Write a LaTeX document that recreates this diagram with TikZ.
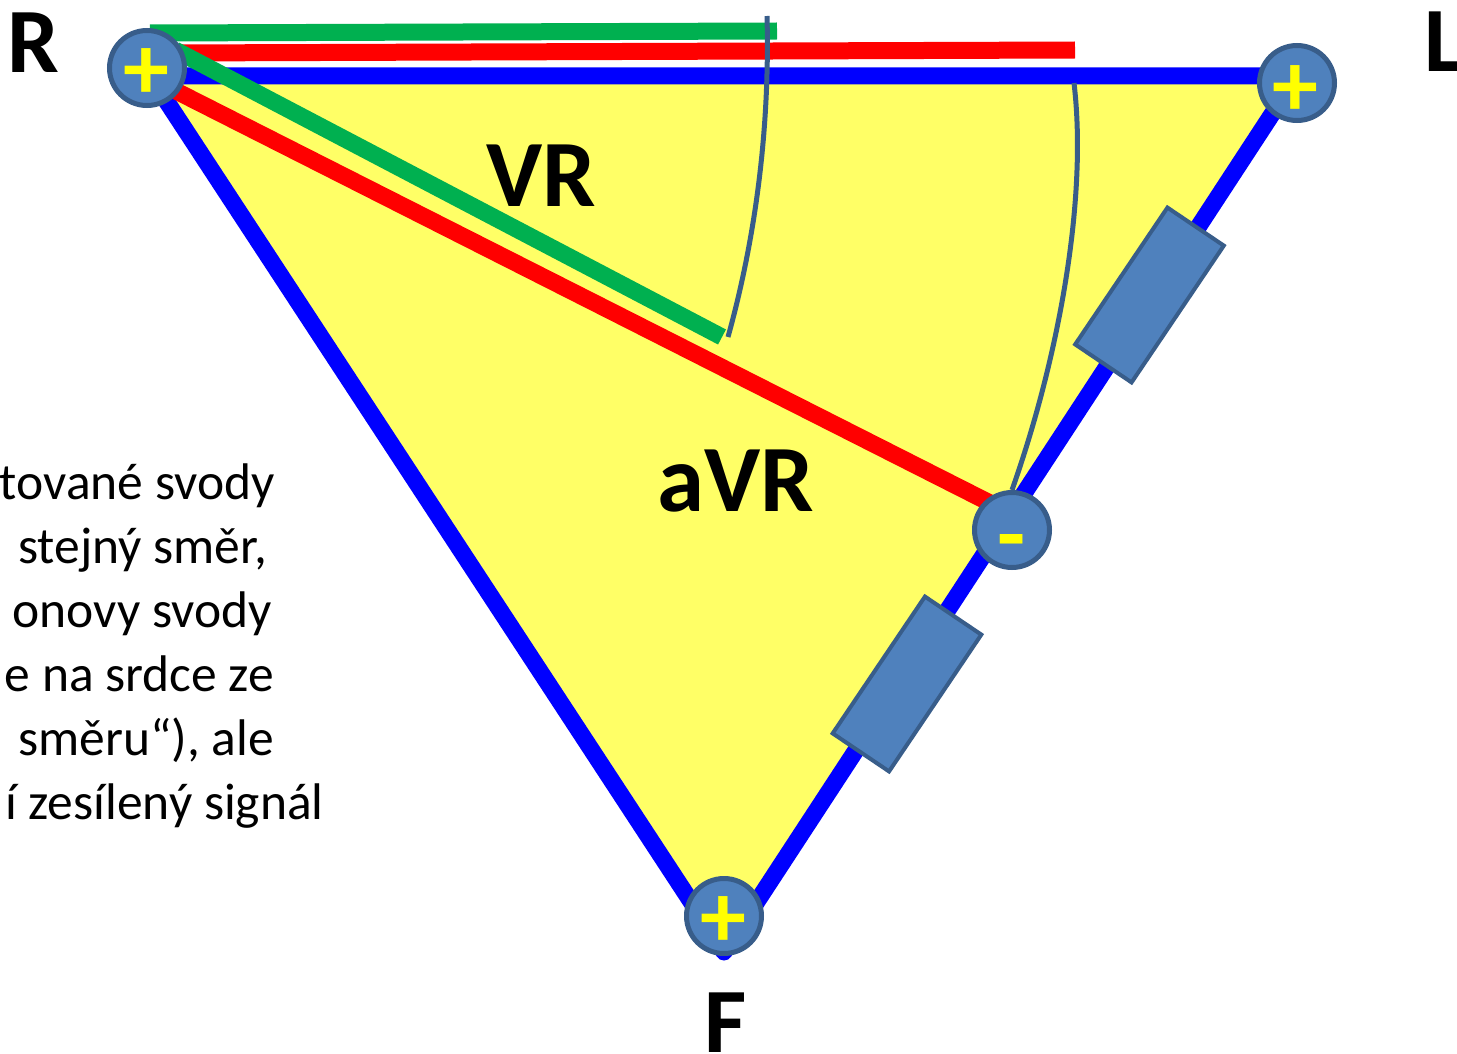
\documentclass[tikz,border=0pt]{standalone}
\usepackage{fontspec}
\setmainfont{Carlito}
\usepackage{xcolor}
\usetikzlibrary{positioning}
\definecolor{polefill}{HTML}{4F81BD}
\definecolor{poleline}{HTML}{385D8A}
\definecolor{leadblue}{HTML}{0000FF}
\definecolor{leadred}{HTML}{FF0000}
\definecolor{leadgreen}{HTML}{00B050}
\definecolor{trifill}{HTML}{FFFF66}
\definecolor{signcol}{RGB}{255,255,0}
\tikzset{
  pole/.style={circle, draw=poleline, fill=polefill, line width=5pt, minimum size=75pt, inner sep=0pt},
  sign/.style={text=signcol, inner sep=0pt, anchor=base, font=\fontsize{92}{100}\selectfont\bfseries},
  resistor/.style={rectangle, draw=poleline, fill=polefill, line width=4pt, minimum width=165pt, minimum height=68pt, rotate=56},
  wire/.style={draw=leadblue, line width=17pt, line join=round},
  leadr/.style={draw=leadred, line width=17pt},
  leadg/.style={draw=leadgreen, line width=17pt},
  arcline/.style={draw=poleline, line width=5pt},
  big/.style={inner sep=0pt, anchor=base west, font=\fontsize{92}{100}\selectfont\bfseries},
  bigger/.style={big, font=\fontsize{95}{100}\selectfont\bfseries},
  txt/.style={inner sep=0pt, anchor=base east, font=\fontsize{51.5}{64}\selectfont},
}
\begin{document}
\begin{tikzpicture}[x=1pt, y=-1pt]
\useasboundingbox (0,0) rectangle (1457,1054);
\coordinate (a) at (150,76);
\coordinate (b) at (1297,76);
\coordinate (c) at (724,952);
\coordinate (gs) at (175,50);
\coordinate (ge) at (722,337);
\coordinate (rs) at (170,88);
\coordinate (re) at (990,503);
\coordinate (gt1) at (150,33);
\coordinate (gt2) at (777,31);
\coordinate (rt1) at (170,53);
\coordinate (rt2) at (1075,50);
\coordinate (p1) at (767,16);
\coordinate (p2) at (728,337);
\coordinate (q1) at (1074,83);
% triangle
\fill[trifill] (a) -- (b) -- (c) -- cycle;
\draw[wire] (b) -- (a) -- (c) -- (b);
% leads
\draw[leadr] (rt1) -- (rt2);
\draw[leadg] (gt1) -- (gt2);
\draw[leadr] (rs) -- (re);
\draw[leadg] (gs) -- (ge);
\node[resistor] (r1) at (1149.5,295) {};
\node[resistor] (r2) at (907,684) {};
\node[pole] (R) at (147,68) {};
\node[pole] (L) at (1297,83) {};
\node[pole] (F) at (724,916) {};
\node[pole] (M) at (1012,530) {};
\draw[arcline] (p1) .. controls (770,130) and (755,240) .. (p2);
\draw[arcline] (q1) .. controls (1088,200) and (1058,360) .. (M.north);
\node[sign] (sr) at (146,100) {+};
\node[sign] (sl) at (1295,117) {+};
\node[sign] (sf) at (723,947) {+};
\node[sign] (sm) at (1012,565) {-};
\node[big] (nr) at (7,73) {R};
\node[big] (nl) at (1424,72) {L};
\node[big] (nf) at (704,1052) {F};
\node[bigger] (vr) at (486,206) {VR};
\node[bigger] (avr) at (657,511) {aVR};
\node[txt] (t1) at (275,499) {tované svody};
\node[txt] (t2) at (267,563) {stejný směr,};
\node[txt] (t3) at (272,627) {onovy svody};
\node[txt] (t4) at (274,691) {e na srdce ze};
\node[txt] (t5) at (274,755) {směru“), ale};
\node[txt] (t6) at (324,819) {í zesílený signál};
\end{tikzpicture}
\end{document}
